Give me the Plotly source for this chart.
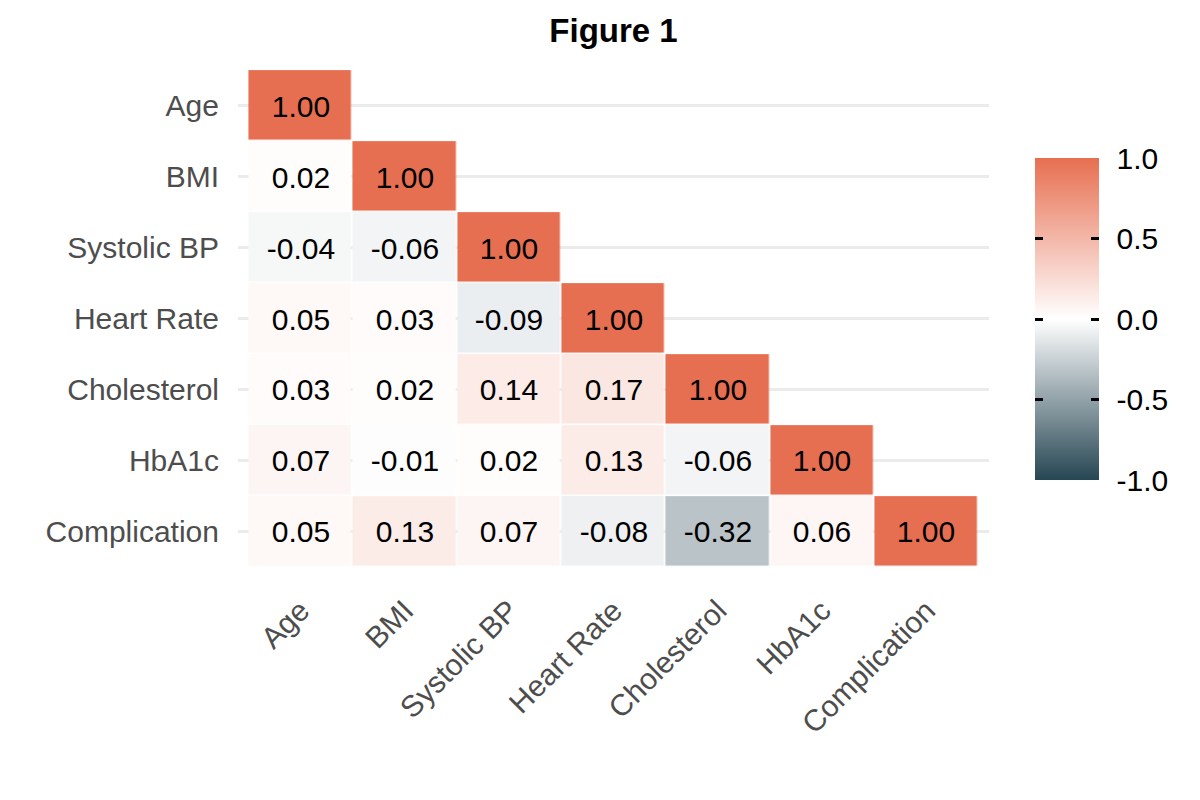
import plotly.graph_objects as go

variables = ["Age", "BMI", "Systolic BP", "Heart Rate", "Cholesterol", "HbA1c", "Complication"]

row_age = [1.00]
row_bmi = [0.02, 1.00]
row_sbp = [-0.04, -0.06, 1.00]
row_hr = [0.05, 0.03, -0.09, 1.00]
row_chol = [0.03, 0.02, 0.14, 0.17, 1.00]
row_hba1c = [0.07, -0.01, 0.02, 0.13, -0.06, 1.00]
row_comp = [0.05, 0.13, 0.07, -0.08, -0.32, 0.06, 1.00]

cbar_ticks = [-1, -0.5, 0, 0.5, 1]
cbar_labels = ["-1.0", "-0.5", "0.0", "0.5", "1.0"]
cbar_marks = [-0.5, 0, 0.5]

rows = [row_age, row_bmi, row_sbp, row_hr, row_chol, row_hba1c, row_comp]
n = len(variables)
z = [r + [None] * (n - len(r)) for r in rows]
text = [[("%.2f" % v) if v is not None else "" for v in r] for r in z]

colorscale = [[0.0, "#264653"], [0.5, "#FFFFFF"], [1.0, "#E76F51"]]
FONT = "Liberation Sans, Arial"

W, H = 1200, 800
L, R, T, B = 237.5, 210.5, 63, 226
plot_w = W - L - R
plot_h = H - T - B

# colorbar geometry (pixels)
cb_left, cb_thick, cb_len, cb_mid = 1036, 64, 322, 319
cb_y = (H - B - cb_mid) / plot_h
mark_len = 8

fig = go.Figure(go.Heatmap(
    z=z, x=variables, y=variables, text=text, texttemplate="%{text}",
    textfont=dict(family=FONT, size=30, color="black"),
    colorscale=colorscale, zmin=-1, zmax=1, xgap=1.5, ygap=1.5,
    hoverinfo="skip",
    colorbar=dict(
        x=(cb_left - L) / plot_w, xanchor="left", xpad=0, ypad=0,
        y=cb_y, yanchor="middle",
        len=cb_len, lenmode="pixels", thickness=cb_thick, thicknessmode="pixels",
        outlinewidth=0, tickvals=cbar_ticks, ticktext=cbar_labels,
        ticks="outside", ticklen=12, tickcolor="rgba(0,0,0,0)",
        tickfont=dict(family=FONT, size=30, color="black"),
    ),
))

# thin overlay colour bars that only carry the ggplot-style tick marks
# on the left and right edges of the main bar
for left in (cb_left, cb_left + cb_thick - mark_len):
    fig.add_trace(go.Scatter(
        x=[None], y=[None], mode="markers", hoverinfo="skip", showlegend=False,
        marker=dict(color=[0], colorscale=colorscale, cmin=-1, cmax=1, showscale=True,
                    colorbar=dict(
                        x=(left - L) / plot_w, xanchor="left", xpad=0, ypad=0,
                        y=cb_y, yanchor="middle",
                        len=cb_len, lenmode="pixels", thickness=mark_len,
                        thicknessmode="pixels",
                        outlinewidth=0, tickvals=cbar_marks, showticklabels=False,
                        ticks="inside", ticklen=mark_len, tickwidth=3, tickcolor="black",
                    )),
    ))

fig.update_layout(
    width=W, height=H,
    margin=dict(l=L, r=R, t=T, b=B, autoexpand=False),
    paper_bgcolor="white", plot_bgcolor="white",
    showlegend=False,
    title=dict(text="<b>Figure 1</b>", x=0.5, xref="paper", xanchor="center",
               y=1 - 30 / H, yanchor="middle",
               font=dict(family=FONT, size=33, color="black")),
    xaxis=dict(categoryorder="array", categoryarray=variables, range=[-0.6, n - 0.4],
               showgrid=False, zeroline=False, showline=False, tickangle=-45,
               ticks="outside", ticklen=6, tickcolor="rgba(0,0,0,0)",
               tickfont=dict(family=FONT, size=30, color="#4D4D4D")),
    yaxis=dict(categoryorder="array", categoryarray=variables, range=[n - 0.4, -0.6],
               showgrid=True, gridcolor="#EBEBEB", gridwidth=2.5, zeroline=False,
               showline=False, ticks="outside", ticklen=12, tickcolor="rgba(0,0,0,0)",
               tickfont=dict(family=FONT, size=30, color="#4D4D4D")),
)

fig.write_html("out.html")
